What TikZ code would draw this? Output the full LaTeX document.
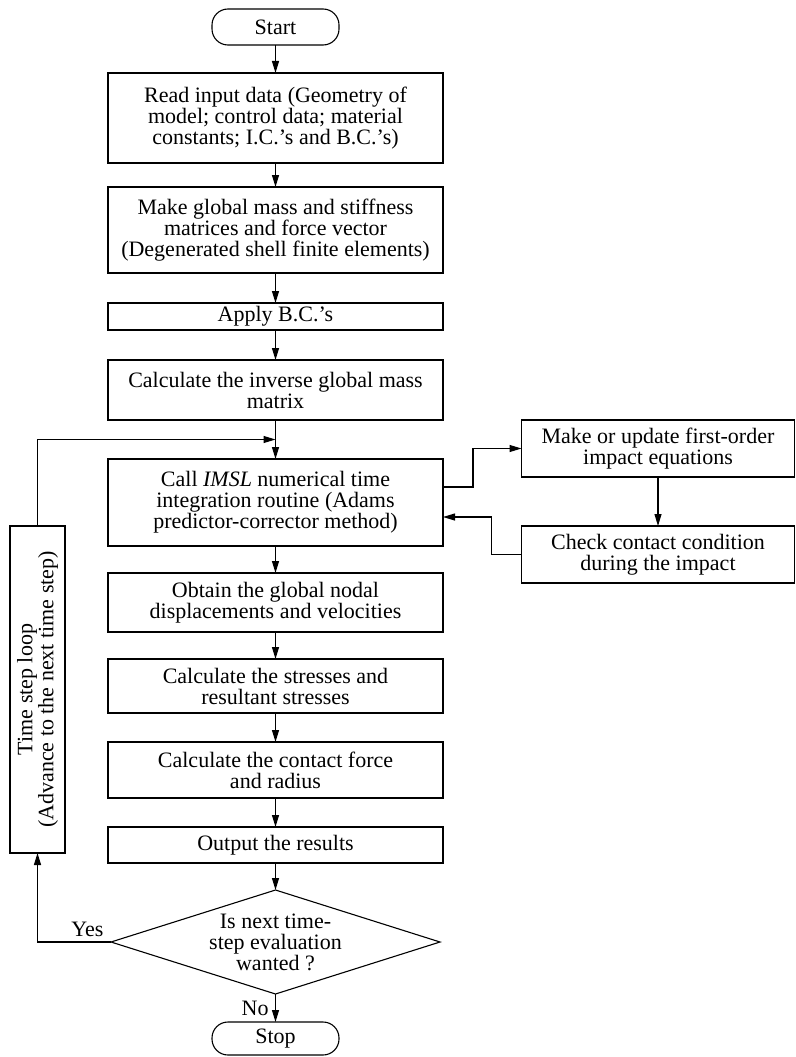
\documentclass[tikz,border=0pt]{standalone}
\usepackage{fontspec}
\setmainfont{Liberation Serif}
\usetikzlibrary{shapes.geometric, arrows.meta, positioning, calc}

\begin{document}
\begin{tikzpicture}[
  x=1pt, y=-1pt,
  font=\fontsize{22}{21}\selectfont,
  box/.style={
    rectangle, draw, line width=1.1pt,
    minimum width=335pt, inner sep=3pt, outer sep=0pt,
    align=center
  },
  sidebox/.style={box, minimum width=273pt, minimum height=57pt},
  terminal/.style={
    rectangle, rounded corners=16pt, draw, line width=1.1pt,
    minimum width=127pt, inner sep=3pt, outer sep=0pt
  },
  decision/.style={
    diamond, draw, line width=1.1pt, aspect=3.16, inner sep=0pt,
    outer sep=0pt, minimum width=329pt, minimum height=104pt, align=center
  },
  arrow/.style={-{Triangle[length=12pt,width=7pt]}, line width=1.1pt}
]
\useasboundingbox (0,0) rectangle (795,1057);

% Main column
\node[terminal, minimum height=36pt] (start) at (275.5,27) {Start};
\node[box, minimum height=90pt, below=28pt of start] (read)
      {Read input data (Geometry of\\model; control data; material\\constants; I.C.'s and B.C.'s)};
\node[box, minimum height=86pt, below=24pt of read] (make)
      {Make global mass and stiffness\\matrices and force vector\\(Degenerated shell finite elements)};
\node[box, minimum height=27pt, below=30pt of make] (apply) {Apply B.C.'s};
\node[box, minimum height=60pt, below=30pt of apply] (calc)
      {Calculate the inverse global mass\\matrix};
\node[box, minimum height=87pt, below=39pt of calc] (call)
      {Call \textit{IMSL} numerical time\\integration routine (Adams\\predictor-corrector method)};
\node[box, minimum height=59pt, below=27pt of call] (obtain)
      {Obtain the global nodal\\displacements and velocities};
\node[box, minimum height=54pt, below=27pt of obtain] (stress)
      {Calculate the stresses and\\resultant stresses};
\node[box, minimum height=56pt, below=29pt of stress] (contact)
      {Calculate the contact force\\and radius};
\node[box, minimum height=36pt, below=29pt of contact] (output) {Output the results};
\node[decision, below=27pt of output] (decide)
      {Is next time-\\step evaluation\\wanted ?};
\node[terminal, minimum height=33pt, below=28pt of decide] (stop) {Stop};

% Impact sub-loop
\node[sidebox] (update) at (658,448.5) {Make or update first-order\\impact equations};
\node[sidebox, below=49pt of update] (check) {Check contact condition\\during the impact};

% Time step loop
\node[box, rotate=90, minimum width=327pt, minimum height=55pt] (loop) at (37.5,689.5)
      {Time step loop\\(Advance to the next time step)};

% Arrows main column
\foreach \a/\b in {start/read, read/make, make/apply, apply/calc, calc/call,
                   call/obtain, obtain/stress, stress/contact, contact/output,
                   output/decide}{
  \draw[arrow] (\a) -- (\b);
}
\draw[arrow] (decide) -- node[left=3pt]{No} (stop);

% Loop back
\coordinate (merge) at ($(calc.south)!0.5!(call.north)$);
\draw[arrow] (decide.west) -| node[pos=0.16, above=1pt]{Yes} (loop.west);
\draw[arrow] (loop.east) |- (merge);

% Impact equations
\draw[arrow] ([yshift=15.5pt]call.east) -- ++(30,0) |- (update.west);
\draw[arrow] (update) -- (check);
\draw[arrow] (check.west) -- ++(-30,0) |- ([yshift=-14.5pt]call.east);

\end{tikzpicture}
\end{document}
